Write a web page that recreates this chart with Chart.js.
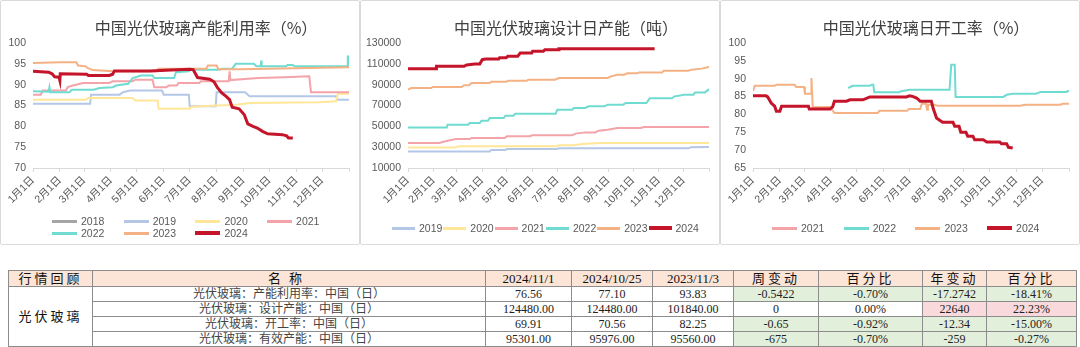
<!DOCTYPE html>
<html>
<head>
<meta charset="utf-8">
<script src="https://cdn.jsdelivr.net/npm/chart.js@4.4.0/dist/chart.umd.min.js"></script>
<style>
body { margin: 0; width: 1080px; height: 347px; background: #fff; position: relative; overflow: hidden; font-family: "Liberation Sans", "Noto Sans CJK SC", sans-serif; }
.panel { position: absolute; top: 0; width: 360px; height: 245px; }
.frame { position: absolute; left: 0; top: 0; right: 0; bottom: 0; border: 1px solid #d9d9d9; border-radius: 2px; }
.panel canvas { position: absolute; left: 0; top: 0; }
.title { position: absolute; top: 16px; left: 206px; transform: translateX(-50%); font-family: "Noto Sans CJK SC"; font-size: 16px; line-height: 22px; color: #404040; white-space: nowrap; }
.lg { position: absolute; font-size: 10.5px; line-height: 12px; color: #595959; white-space: nowrap; }
.lg i { display: inline-block; vertical-align: middle; margin-right: 4px; margin-top: -2px; }
table { position: absolute; left: 8px; top: 270px; border-collapse: collapse; table-layout: fixed; font-family: "Liberation Serif", "Noto Sans CJK SC", serif; font-size: 12px; color: #222; }
td, th { border: 1px solid #8c8c8c; padding: 0; text-align: center; height: 14px; line-height: 14px; overflow: hidden; white-space: nowrap; }
th { background: #fce4d6; font-weight: normal; font-size: 13px; height: 15px; line-height: 15px; color: #111; }
.sp { letter-spacing: 3px; }
</style>
</head>
<body>

<div class="panel" style="left:0"><div class="frame"></div><canvas id="c1" width="360" height="245"></canvas><div class="title">中国光伏玻璃产能利用率（%）</div></div>
<div class="panel" style="left:360px"><div class="frame"></div><canvas id="c2" width="360" height="245"></canvas><div class="title">中国光伏玻璃设计日产能（吨）</div></div>
<div class="panel" style="left:720px"><div class="frame"></div><canvas id="c3" width="360" height="245"></canvas><div class="title">中国光伏玻璃日开工率（%）</div></div>

<table id="tbl"></table>

<script>
// x axis = day of year
const monthStarts = [0, 31, 59, 90, 120, 151, 181, 212, 243, 273, 304, 334];
const monthLabels = ['1月1日', '2月1日', '3月1日', '4月1日', '5月1日', '6月1日', '7月1日', '8月1日', '9月1日', '10月1日', '11月1日', '12月1日'];

// 产能利用率 (%)  [day, value]
const util2018 = [];
const util2019 = [[0,85.4],[66,85.4],[67,87.6],[100,87.6],[104,88.2],[112,88.6],[149,88.6],[151,87.6],[180,87.6],[181,84.8],[211,84.8],[212,88.2],[245,88.2],[250,87.2],[350,87.2],[352,86.4],[365,86.4]];
const util2020 = [[0,86.4],[61,86.4],[64,86.8],[115,86.8],[118,86.2],[144,86.2],[145,84.2],[181,84.2],[183,84.7],[212,85.0],[235,85.2],[250,85.6],[330,85.8],[350,86.0],[352,87.8],[365,87.8]];
const util2021 = [[0,87.6],[9,87.6],[11,88.6],[38,88.6],[40,89.4],[46,89.8],[58,90.4],[88,90.4],[92,90.8],[115,90.8],[118,91.2],[138,91.2],[140,89.4],[154,89.4],[157,89.8],[166,89.8],[168,90.4],[192,90.4],[194,90.8],[226,90.8],[227,93.2],[228,91.1],[260,91.6],[290,91.8],[319,92.0],[321,88.2],[365,88.2]];
const util2022 = [[0,88.4],[18,88.3],[19,89.4],[20,88.2],[42,88.2],[45,88.8],[70,88.8],[77,89.2],[92,89.4],[96,89.8],[110,90.2],[115,91.6],[125,92.2],[138,92.2],[140,91.6],[163,91.6],[165,93.0],[180,93.2],[182,93.6],[215,93.6],[218,93.8],[230,93.8],[234,95.0],[255,95.0],[258,94.4],[263,94.4],[263.5,95.8],[264,94.4],[292,94.4],[294,94.7],[300,94.7],[302,94.4],[363,94.4],[363.5,97.0],[365,94.6]];
const util2023 = [[0,95.2],[31,95.4],[50,95.4],[52,94.6],[61,94.4],[63,94.0],[69,93.5],[92,93.2],[142,93.2],[145,93.8],[200,93.8],[202,94.6],[212,94.6],[214,93.7],[240,93.7],[365,94.2]];
const util2024 = [[0,93.2],[18,93.0],[22,92.6],[25,91.9],[30,91.8],[31,91.0],[31.5,92.6],[62,92.5],[64,92.2],[88,92.2],[92,92.5],[94,93.3],[135,93.3],[160,93.5],[181,93.7],[185,93.6],[190,91.7],[204,91.3],[209,90.7],[213,89.3],[218,88.0],[223,87.2],[227,86.4],[230,84.6],[238,84.2],[244,82.8],[248,80.6],[254,80.0],[259,79.6],[265,78.8],[271,78.2],[288,78.0],[293,77.7],[295,77.2],[300,77.2]];

// 设计日产能 (吨)
const design2019 = [[0,25800],[99,25800],[101,27400],[118,27400],[120,28200],[180,28200],[184,28900],[340,28900],[343,30000],[365,30200]];
const design2020 = [[0,29800],[57,29800],[61,30800],[180,30800],[182,31800],[201,31800],[211,33000],[234,34000],[365,34000]];
const design2021 = [[0,34000],[38,34000],[42,35000],[48,36200],[58,37800],[75,37800],[77,38800],[117,38800],[120,40400],[148,40400],[150,41400],[199,41400],[203,43000],[215,44200],[227,44200],[231,45800],[242,46800],[254,48400],[282,48400],[286,49400],[365,49400]];
const design2022 = [[0,49000],[47,49000],[48,51600],[73,51600],[75,53200],[87,53200],[89,55400],[97,55400],[99,58000],[116,58000],[118,60200],[128,60200],[130,62200],[179,62200],[181,66000],[199,66000],[201,67600],[215,67600],[219,69200],[238,69200],[242,70800],[261,70800],[264,72400],[289,72400],[293,76900],[320,76900],[323,78800],[330,79500],[334,80400],[346,80400],[348,82600],[360,82600],[365,85800]];
const design2023 = [[0,85200],[4,86800],[28,86800],[30,87800],[65,87800],[68,89400],[74,89400],[77,91600],[99,91600],[101,92900],[119,92900],[122,93800],[144,93800],[146,94800],[178,94800],[183,96400],[242,96400],[246,98000],[254,99600],[262,99600],[266,100900],[278,100900],[280,101800],[308,101800],[310,103400],[340,103400],[344,104400],[356,105400],[365,107000]];
const design2024 = [[0,105300],[34,105300],[34.5,107600],[68,107600],[71,108900],[81,109800],[87,109800],[90,114000],[94,114600],[110,114600],[111,115900],[119,115900],[121,117200],[133,117200],[136,120400],[150,120400],[151,122000],[164,122000],[166,123600],[182,123600],[183,124480],[299,124480]];

// 日开工率 (%)
const rate2021 = [];
const rate2022 = [[110,87.4],[115,88.0],[135,88.0],[137,88.3],[139,88.3],[140,86.2],[169,86.2],[171,86.5],[181,86.9],[227,86.9],[229,93.9],[233,93.9],[234,84.9],[289,84.9],[293,85.5],[300,85.8],[327,85.8],[332,86.3],[362,86.3],[365,86.7]];
const rate2023 = [[0,86.6],[2,88.0],[25,88.0],[27,88.3],[48,88.3],[50,87.7],[59,87.7],[60,85.8],[67,85.8],[67.5,90.2],[69,82.0],[89,82.1],[94,80.4],[144,80.4],[146,81.0],[178,81.0],[180,81.5],[193,81.5],[195,83.0],[200,83.0],[201,81.3],[202,82.8],[210,82.7],[213,82.4],[308,82.4],[315,82.7],[355,82.7],[358,83.0],[365,83.0]];
const rate2024 = [[0,85.2],[15,85.2],[17,84.9],[21,83.2],[25,82.3],[27,80.9],[31,80.9],[33,82.3],[64,82.3],[65,81.5],[89,81.5],[92,82.1],[94,83.7],[108,83.7],[112,84.1],[127,84.1],[135,84.9],[177,84.9],[181,85.2],[185,85.0],[189,84.6],[193,83.7],[206,83.7],[208,81.8],[212,79.0],[216,78.3],[219,77.8],[231,77.8],[233,76.7],[238,76.7],[240,75.0],[246,75.0],[248,73.9],[254,73.9],[256,72.9],[266,72.9],[270,72.3],[285,72.3],[287,71.8],[293,71.8],[295,70.8],[300,70.6]];

// table
const tableHead = ['行情回顾', '名称', '2024/11/1', '2024/10/25', '2023/11/3', '周变动', '百分比', '年变动', '百分比'];
const tableGroup = '光伏玻璃';
const tableNames = ['光伏玻璃：产能利用率：中国（日）', '光伏玻璃：设计产能：中国（日）', '光伏玻璃：开工率：中国（日）', '光伏玻璃：有效产能：中国（日）'];
const valNow = ['76.56', '124480.00', '69.91', '95301.00'];
const valLastWeek = ['77.10', '124480.00', '70.56', '95976.00'];
const valLastYear = ['93.83', '101840.00', '82.25', '95560.00'];
const weekChg = ['-0.5422', '0', '-0.65', '-675'];
const weekPct = ['-0.70%', '0.00%', '-0.92%', '-0.70%'];
const yearChg = ['-17.2742', '22640', '-12.34', '-259'];
const yearPct = ['-18.41%', '22.23%', '-15.00%', '-0.27%'];

const colors = { 2018: '#a5a5a5', 2019: '#b4c7e7', 2020: '#ffe699', 2021: '#f4a3a8', 2022: '#70dbd0', 2023: '#f4b183', 2024: '#c5152b' };

Chart.defaults.font.family = '"Liberation Sans", "Noto Sans CJK SC", sans-serif';

function series(year, pts) {
  return {
    label: String(year),
    data: pts.map(p => ({ x: p[0], y: p[1] })),
    borderColor: colors[year],
    backgroundColor: colors[year],
    borderWidth: year === 2024 ? 3 : 2,
    pointRadius: 0,
    tension: 0,
    fill: false
  };
}

function makeChart(id, sets, yMin, yMax, yStep, yWidth, padRight) {
  // later years drawn on top
  sets.forEach((s, i) => { s.order = sets.length - i; });
  return new Chart(document.getElementById(id), {
    type: 'line',
    data: { datasets: sets },
    options: {
      responsive: false,
      animation: false,
      devicePixelRatio: 1,
      layout: { padding: { top: 43, right: padRight, left: 0, bottom: 0 } },
      plugins: { legend: { display: false }, tooltip: { enabled: false } },
      scales: {
        x: {
          type: 'linear', min: 0, max: 365,
          afterBuildTicks: s => { s.ticks = monthStarts.concat([365]).map(v => ({ value: v })); },
          afterFit: s => { s.height = 77; },
          grid: { drawOnChartArea: false, drawTicks: true, tickLength: 4, color: '#d9d9d9' },
          border: { color: '#d9d9d9' },
          ticks: {
            autoSkip: false, minRotation: 45, maxRotation: 45, padding: 2,
            color: '#595959', font: { size: 10.5 },
            callback: v => { const i = monthStarts.indexOf(v); return i < 0 ? '' : monthLabels[i]; }
          }
        },
        y: {
          min: yMin, max: yMax,
          afterFit: s => { s.width = yWidth; },
          grid: { display: false, drawTicks: false },
          border: { display: false },
          ticks: { stepSize: yStep, padding: 7, color: '#595959', font: { size: 10.5 }, callback: v => String(v) }
        }
      }
    }
  });
}

function legend(chart, left, top, colW, rowH, perRow, lineW) {
  chart.data.datasets.forEach((ds, i) => {
    const el = document.createElement('div');
    el.className = 'lg';
    el.style.left = (left + (i % perRow) * colW) + 'px';
    el.style.top = (top + Math.floor(i / perRow) * rowH) + 'px';
    el.innerHTML = '<i style="width:' + lineW + 'px;height:' + (ds.borderWidth + 1) + 'px;background:' + ds.borderColor + '"></i>' + ds.label;
    document.body.appendChild(el);
  });
}

const chart1 = makeChart('c1', [
  series(2018, util2018), series(2019, util2019), series(2020, util2020), series(2021, util2021),
  series(2022, util2022), series(2023, util2023), series(2024, util2024)
], 70, 100, 5, 33, 10);

const chart2 = makeChart('c2', [
  series(2019, design2019), series(2020, design2020), series(2021, design2021),
  series(2022, design2022), series(2023, design2023), series(2024, design2024)
], 10000, 130000, 20000, 48, 3);

const chart3 = makeChart('c3', [
  series(2021, rate2021), series(2022, rate2022), series(2023, rate2023), series(2024, rate2024)
], 65, 100, 5, 33, 11);

legend(chart1, 52, 215, 71.7, 12, 4, 25);
legend(chart2, 392, 222, 51.3, 12, 6, 23);
legend(chart3, 772, 222, 71.7, 12, 4, 25);

// table
const colW = [84, 393, 86, 81, 81, 85, 104, 64, 90];
function cellBg(v) {
  const n = parseFloat(v);
  if (n < 0) return '#e2efda';
  if (n > 0) return '#f9d9dc';
  return '#fff';
}
let html = '<colgroup>' + colW.map(w => '<col style="width:' + w + 'px">').join('') + '</colgroup>';
html += '<tr>' + tableHead.map((h, i) => '<th' + (i === 1 ? ' style="letter-spacing:8px"' : (/\d/.test(h) ? '' : ' class="sp"')) + '>' + h + '</th>').join('') + '</tr>';
tableNames.forEach((name, r) => {
  html += '<tr>';
  if (r === 0) html += '<td rowspan="4" class="sp" style="font-size:13px;color:#111">' + tableGroup + '</td>';
  html += '<td style="color:#444">' + name + '</td>';
  html += '<td>' + valNow[r] + '</td><td>' + valLastWeek[r] + '</td><td>' + valLastYear[r] + '</td>';
  [weekChg[r], weekPct[r], yearChg[r], yearPct[r]].forEach(v => {
    html += '<td style="background:' + cellBg(v) + '">' + v + '</td>';
  });
  html += '</tr>';
});
document.getElementById('tbl').innerHTML = html;
</script>
</body>
</html>
